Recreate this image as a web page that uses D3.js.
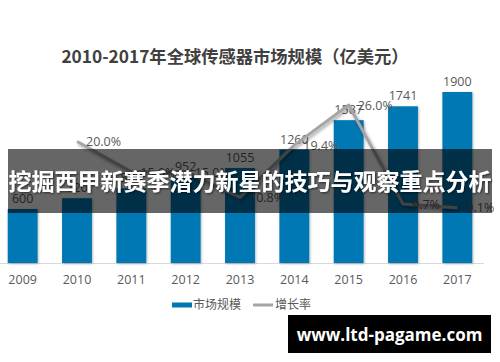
<!DOCTYPE html>
<html>
<head>
<meta charset="utf-8">
<script src="https://cdn.jsdelivr.net/npm/d3@7"></script>
<style>
  body { margin: 0; background: #fff; }
  svg { display: block; }
</style>
</head>
<body>
<script>
// données
const years = ["2009", "2010", "2011", "2012", "2013", "2014", "2015", "2016", "2017"];
const marketSize = [600, 720, 828, 952, 1055, 1260, 1587, 1741, 1900];
const growthYears = ["2010", "2011", "2012", "2013", "2014", "2015", "2016", "2017"];
const growthRate = [20.0, 15.0, 15.0, 10.8, 19.4, 26.0, 9.7, 9.1];
const legendLabels = ["市场规模", "增长率"];
const titleText = "2010-2017年全球传感器市场规模（亿美元）";
const bannerText = "挖掘西甲新赛季潜力新星的技巧与观察重点分析";
const watermarkText = "www.ltd-pagame.com";

const width = 500;
const height = 362;
const baseY = 263;
const font = "'Open Sans', 'Noto Sans CJK SC', sans-serif";
const cjk = "'Noto Sans CJK SC', sans-serif";

const svg = d3.select("body")
  .append("svg")
  .attr("width", width)
  .attr("height", height);

const defs = svg.append("defs");
const sh = defs.append("filter").attr("id", "lineShadow")
  .attr("x", "-20%").attr("y", "-20%").attr("width", "140%").attr("height", "140%");
sh.append("feDropShadow").attr("dx", 1.5).attr("dy", 2).attr("stdDeviation", 1.8)
  .attr("flood-color", "#000").attr("flood-opacity", 0.35);
const bsh = defs.append("filter").attr("id", "barShadow")
  .attr("x", "-20%").attr("y", "-5%").attr("width", "140%").attr("height", "110%");
bsh.append("feDropShadow").attr("dx", 0.8).attr("dy", 0.8).attr("stdDeviation", 0.8)
  .attr("flood-color", "#000").attr("flood-opacity", 0.3);
const tsh = defs.append("filter").attr("id", "textShadow");
tsh.append("feDropShadow").attr("dx", 1).attr("dy", 1).attr("stdDeviation", 1)
  .attr("flood-color", "#000").attr("flood-opacity", 0.6);

// échelles
const x = d3.scaleBand().domain(years).range([-4.5, 484.5]).paddingInner(0.45).paddingOuter(0.225);
const yBar = d3.scaleLinear().domain([0, 1900]).range([baseY, 92]);
const yLine = d3.scaleLinear().domain([0, 26]).range([baseY, 105]);

// titre
svg.append("text")
  .attr("x", 235).attr("y", 63)
  .attr("text-anchor", "middle")
  .attr("font-family", cjk)
  .attr("font-weight", "bold")
  .attr("font-size", "17.3px")
  .attr("fill", "#404040")
  .text(titleText);

// axe X
svg.append("line")
  .attr("x1", 0).attr("x2", 484)
  .attr("y1", baseY + 0.5).attr("y2", baseY + 0.5)
  .attr("stroke", "#d9d9d9");

const xAxis = svg.append("g")
  .attr("transform", `translate(0,${baseY})`)
  .call(d3.axisBottom(x).tickSize(0).tickPadding(12));
xAxis.select(".domain").remove();
xAxis.selectAll("text")
  .attr("font-family", font)
  .attr("font-size", "12.5px")
  .attr("fill", "#595959");

// barres
svg.append("g")
  .selectAll("rect")
  .data(years)
  .join("rect")
  .attr("x", (d) => x(d))
  .attr("y", (d, i) => yBar(marketSize[i]))
  .attr("width", x.bandwidth())
  .attr("height", (d, i) => baseY - yBar(marketSize[i]))
  .attr("fill", "#0078b4")
  .attr("filter", "url(#barShadow)");

// étiquettes des barres
svg.append("g")
  .selectAll("text")
  .data(years)
  .join("text")
  .attr("x", (d) => x(d) + x.bandwidth() / 2)
  .attr("y", (d, i) => yBar(marketSize[i]) - 6)
  .attr("text-anchor", "middle")
  .attr("font-family", font)
  .attr("font-size", "12.5px")
  .attr("fill", "#595959")
  .text((d, i) => marketSize[i]);

// courbe du taux de croissance
const line = d3.line()
  .x((d) => x(d) + x.bandwidth() / 2)
  .y((d, i) => yLine(growthRate[i]));

svg.append("path")
  .datum(growthYears)
  .attr("d", line)
  .attr("fill", "none")
  .attr("stroke", "#a5a5a5")
  .attr("stroke-width", 3)
  .attr("stroke-linejoin", "round")
  .attr("filter", "url(#lineShadow)");

svg.append("g")
  .selectAll("text")
  .data(growthYears)
  .join("text")
  .attr("x", (d) => x(d) + x.bandwidth() / 2 + 9)
  .attr("y", (d, i) => yLine(growthRate[i]))
  .attr("dy", "0.38em")
  .attr("font-family", font)
  .attr("font-size", "12.5px")
  .attr("fill", "#595959")
  .text((d, i) => growthRate[i].toFixed(1) + "%");

// légende
const legend = svg.append("g").attr("transform", "translate(172,305)");
legend.append("rect")
  .attr("x", 0).attr("y", -2.5).attr("width", 20).attr("height", 5)
  .attr("fill", "#0078b4");
legend.append("text")
  .attr("x", 21).attr("y", 0).attr("dy", "0.36em")
  .attr("font-family", cjk).attr("font-size", "12px").attr("fill", "#595959")
  .text(legendLabels[0]);
legend.append("line")
  .attr("x1", 81).attr("x2", 101).attr("y1", 0).attr("y2", 0)
  .attr("stroke", "#a5a5a5").attr("stroke-width", 3);
legend.append("text")
  .attr("x", 103).attr("y", 0).attr("dy", "0.36em")
  .attr("font-family", cjk).attr("font-size", "12px").attr("fill", "#595959")
  .text(legendLabels[1]);

// bandeau sombre + titre blanc
svg.append("rect")
  .attr("x", 8).attr("y", 149).attr("width", 484).attr("height", 64)
  .attr("fill", "#000").attr("fill-opacity", 0.6);

svg.append("text")
  .attr("x", 250).attr("y", 190)
  .attr("text-anchor", "middle")
  .attr("font-family", cjk)
  .attr("font-weight", "bold")
  .attr("font-size", "23px")
  .attr("fill", "#fff")
  .attr("filter", "url(#textShadow)")
  .text(bannerText);

// filigrane
svg.append("rect")
  .attr("x", 288).attr("y", 315).attr("width", 203).attr("height", 38)
  .attr("fill", "#000");
svg.append("text")
  .attr("x", 389.5).attr("y", 341)
  .attr("text-anchor", "middle")
  .attr("font-family", "'Open Sans', sans-serif")
  .attr("font-weight", "bold")
  .attr("font-size", "17px")
  .attr("fill", "#fff")
  .text(watermarkText);
</script>
</body>
</html>
